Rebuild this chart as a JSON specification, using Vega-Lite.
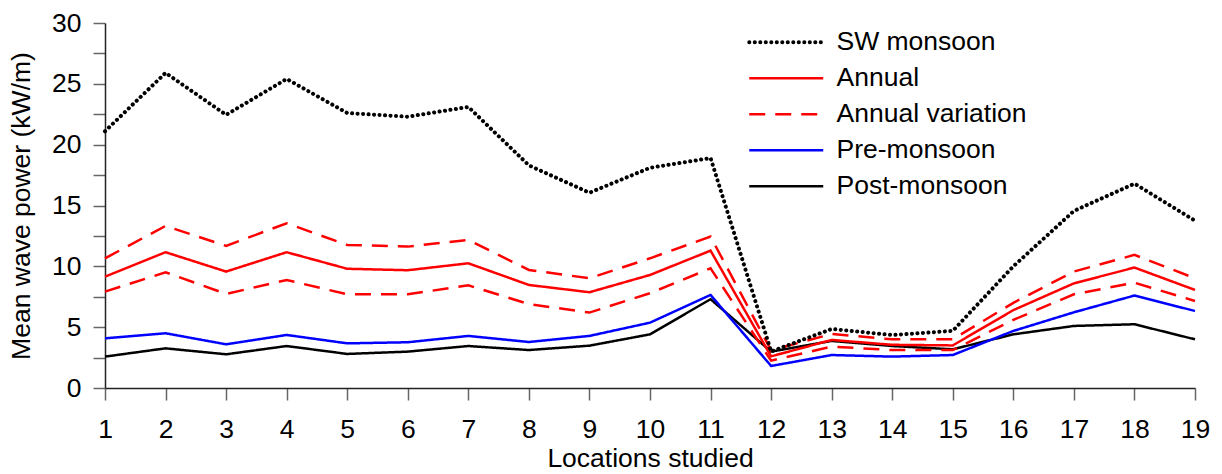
{
  "$schema": "https://vega.github.io/schema/vega-lite/v6.json",
  "autosize": "none",
  "width": 1090,
  "height": 365,
  "padding": {"left": 105, "top": 23, "right": 27, "bottom": 86},
  "background": "white",
  "config": {
    "view": {"stroke": null},
    "font": "Liberation Sans",
    "axis": {
      "labelFont": "Liberation Sans",
      "titleFont": "Liberation Sans",
      "labelFontSize": 26.5,
      "titleFontSize": 26.5,
      "titleFontWeight": "normal",
      "labelColor": "black",
      "titleColor": "black",
      "domainColor": "#222",
      "domainWidth": 1.5,
      "tickColor": "#666",
      "tickWidth": 1.5,
      "tickSize": 12,
      "grid": false
    },
    "legend": {
      "labelFont": "Liberation Sans",
      "labelFontSize": 26.5,
      "labelColor": "black",
      "labelLimit": 0
    }
  },
  "data": {
    "values": [
      {"x":1,"s":"Post-monsoon","p":"a","v":2.58},{"x":2,"s":"Post-monsoon","p":"a","v":3.26},{"x":3,"s":"Post-monsoon","p":"a","v":2.77},{"x":4,"s":"Post-monsoon","p":"a","v":3.45},{"x":5,"s":"Post-monsoon","p":"a","v":2.8},{"x":6,"s":"Post-monsoon","p":"a","v":2.99},{"x":7,"s":"Post-monsoon","p":"a","v":3.45},{"x":8,"s":"Post-monsoon","p":"a","v":3.12},{"x":9,"s":"Post-monsoon","p":"a","v":3.48},{"x":10,"s":"Post-monsoon","p":"a","v":4.41},{"x":11,"s":"Post-monsoon","p":"a","v":7.3},{"x":12,"s":"Post-monsoon","p":"a","v":2.99},{"x":13,"s":"Post-monsoon","p":"a","v":3.87},{"x":14,"s":"Post-monsoon","p":"a","v":3.45},{"x":15,"s":"Post-monsoon","p":"a","v":3.18},{"x":16,"s":"Post-monsoon","p":"a","v":4.41},{"x":17,"s":"Post-monsoon","p":"a","v":5.1},{"x":18,"s":"Post-monsoon","p":"a","v":5.24},{"x":19,"s":"Post-monsoon","p":"a","v":4.0},
      {"x":1,"s":"Pre-monsoon","p":"a","v":4.08},{"x":2,"s":"Pre-monsoon","p":"a","v":4.5},{"x":3,"s":"Pre-monsoon","p":"a","v":3.59},{"x":4,"s":"Pre-monsoon","p":"a","v":4.36},{"x":5,"s":"Pre-monsoon","p":"a","v":3.67},{"x":6,"s":"Pre-monsoon","p":"a","v":3.76},{"x":7,"s":"Pre-monsoon","p":"a","v":4.28},{"x":8,"s":"Pre-monsoon","p":"a","v":3.78},{"x":9,"s":"Pre-monsoon","p":"a","v":4.28},{"x":10,"s":"Pre-monsoon","p":"a","v":5.37},{"x":11,"s":"Pre-monsoon","p":"a","v":7.65},{"x":12,"s":"Pre-monsoon","p":"a","v":1.81},{"x":13,"s":"Pre-monsoon","p":"a","v":2.71},{"x":14,"s":"Pre-monsoon","p":"a","v":2.58},{"x":15,"s":"Pre-monsoon","p":"a","v":2.71},{"x":16,"s":"Pre-monsoon","p":"a","v":4.69},{"x":17,"s":"Pre-monsoon","p":"a","v":6.22},{"x":18,"s":"Pre-monsoon","p":"a","v":7.6},{"x":19,"s":"Pre-monsoon","p":"a","v":6.33},
      {"x":1,"s":"Annual variation","p":"u","v":10.66},{"x":2,"s":"Annual variation","p":"u","v":13.32},{"x":3,"s":"Annual variation","p":"u","v":11.68},{"x":4,"s":"Annual variation","p":"u","v":13.54},{"x":5,"s":"Annual variation","p":"u","v":11.76},{"x":6,"s":"Annual variation","p":"u","v":11.62},{"x":7,"s":"Annual variation","p":"u","v":12.17},{"x":8,"s":"Annual variation","p":"u","v":9.7},{"x":9,"s":"Annual variation","p":"u","v":9.02},{"x":10,"s":"Annual variation","p":"u","v":10.66},{"x":11,"s":"Annual variation","p":"u","v":12.44},{"x":12,"s":"Annual variation","p":"u","v":3.1},{"x":13,"s":"Annual variation","p":"u","v":4.44},{"x":14,"s":"Annual variation","p":"u","v":4.0},{"x":15,"s":"Annual variation","p":"u","v":4.0},{"x":16,"s":"Annual variation","p":"u","v":7.0},{"x":17,"s":"Annual variation","p":"u","v":9.57},{"x":18,"s":"Annual variation","p":"u","v":10.94},{"x":19,"s":"Annual variation","p":"u","v":9.02},
      {"x":1,"s":"Annual variation","p":"l","v":7.92},{"x":2,"s":"Annual variation","p":"l","v":9.51},{"x":3,"s":"Annual variation","p":"l","v":7.73},{"x":4,"s":"Annual variation","p":"l","v":8.88},{"x":5,"s":"Annual variation","p":"l","v":7.7},{"x":6,"s":"Annual variation","p":"l","v":7.7},{"x":7,"s":"Annual variation","p":"l","v":8.44},{"x":8,"s":"Annual variation","p":"l","v":6.9},{"x":9,"s":"Annual variation","p":"l","v":6.2},{"x":10,"s":"Annual variation","p":"l","v":7.79},{"x":11,"s":"Annual variation","p":"l","v":9.84},{"x":12,"s":"Annual variation","p":"l","v":2.25},{"x":13,"s":"Annual variation","p":"l","v":3.4},{"x":14,"s":"Annual variation","p":"l","v":3.12},{"x":15,"s":"Annual variation","p":"l","v":3.12},{"x":16,"s":"Annual variation","p":"l","v":5.6},{"x":17,"s":"Annual variation","p":"l","v":7.7},{"x":18,"s":"Annual variation","p":"l","v":8.66},{"x":19,"s":"Annual variation","p":"l","v":7.15},
      {"x":1,"s":"Annual","p":"a","v":9.15},{"x":2,"s":"Annual","p":"a","v":11.16},{"x":3,"s":"Annual","p":"a","v":9.57},{"x":4,"s":"Annual","p":"a","v":11.16},{"x":5,"s":"Annual","p":"a","v":9.8},{"x":6,"s":"Annual","p":"a","v":9.68},{"x":7,"s":"Annual","p":"a","v":10.25},{"x":8,"s":"Annual","p":"a","v":8.47},{"x":9,"s":"Annual","p":"a","v":7.87},{"x":10,"s":"Annual","p":"a","v":9.29},{"x":11,"s":"Annual","p":"a","v":11.29},{"x":12,"s":"Annual","p":"a","v":2.6},{"x":13,"s":"Annual","p":"a","v":3.95},{"x":14,"s":"Annual","p":"a","v":3.55},{"x":15,"s":"Annual","p":"a","v":3.5},{"x":16,"s":"Annual","p":"a","v":6.4},{"x":17,"s":"Annual","p":"a","v":8.6},{"x":18,"s":"Annual","p":"a","v":9.9},{"x":19,"s":"Annual","p":"a","v":8.06},
      {"x":1,"s":"SW monsoon","p":"a","v":21.1},{"x":2,"s":"SW monsoon","p":"a","v":25.9},{"x":3,"s":"SW monsoon","p":"a","v":22.45},{"x":4,"s":"SW monsoon","p":"a","v":25.4},{"x":5,"s":"SW monsoon","p":"a","v":22.6},{"x":6,"s":"SW monsoon","p":"a","v":22.3},{"x":7,"s":"SW monsoon","p":"a","v":23.1},{"x":8,"s":"SW monsoon","p":"a","v":18.3},{"x":9,"s":"SW monsoon","p":"a","v":16.05},{"x":10,"s":"SW monsoon","p":"a","v":18.1},{"x":11,"s":"SW monsoon","p":"a","v":18.9},{"x":12,"s":"SW monsoon","p":"a","v":3.0},{"x":13,"s":"SW monsoon","p":"a","v":4.85},{"x":14,"s":"SW monsoon","p":"a","v":4.35},{"x":15,"s":"SW monsoon","p":"a","v":4.7},{"x":16,"s":"SW monsoon","p":"a","v":10.0},{"x":17,"s":"SW monsoon","p":"a","v":14.55},{"x":18,"s":"SW monsoon","p":"a","v":16.8},{"x":19,"s":"SW monsoon","p":"a","v":13.75}
    ]
  },
  "encoding": {
    "x": {
      "field": "x", "type": "quantitative",
      "scale": {"domain": [1, 19], "nice": false, "zero": false},
      "axis": {"values": [1,2,3,4,5,6,7,8,9,10,11,12,13,14,15,16,17,18,19], "labelPadding": 16, "title": "Locations studied", "titlePadding": 3, "labelFlush": false, "labelOverlap": false}
    },
    "y": {
      "field": "v", "type": "quantitative",
      "scale": {"domain": [0, 30], "nice": false},
      "axis": {"values": [0,2.5,5,7.5,10,12.5,15,17.5,20,22.5,25,27.5,30], "labelExpr": "datum.value % 5 === 0 ? datum.label : ''", "labelPadding": 12, "title": "Mean wave power (kW/m)", "titlePadding": 16, "labelFlush": false, "labelOverlap": false}
    },
    "color": {
      "field": "s", "type": "nominal",
      "scale": {"domain": ["SW monsoon", "Annual", "Annual variation", "Pre-monsoon", "Post-monsoon"], "range": ["#000000", "#ff0000", "#ff0000", "#0000ff", "#000000"]},
      "legend": {
        "title": null, "orient": "none", "legendX": 631, "legendY": 6, "padding": 0,
        "symbolType": "M0,0H14.8", "symbolSize": 100, "labelOffset": 74, "rowPadding": 9,
        "symbolStrokeWidth": 2.5,
        "encode": {"symbols": {"update": {
          "strokeWidth": {"signal": "datum.value === 'SW monsoon' ? 4 : 2.5"},
          "strokeCap": {"signal": "datum.value === 'SW monsoon' ? 'round' : 'butt'"}
        }}}
      }
    },
    "strokeDash": {
      "field": "s", "type": "nominal",
      "scale": {"domain": ["SW monsoon", "Annual", "Annual variation", "Pre-monsoon", "Post-monsoon"], "range": [[0.1, 5.4], [1, 0], [16, 10], [1, 0], [1, 0]]},
      "legend": {
        "title": null, "orient": "none", "legendX": 631, "legendY": 6, "padding": 0,
        "symbolType": "M0,0H14.8", "symbolSize": 100, "labelOffset": 74, "rowPadding": 9,
        "symbolStrokeWidth": 2.5,
        "encode": {"symbols": {"update": {
          "strokeWidth": {"signal": "datum.value === 'SW monsoon' ? 4 : 2.5"},
          "strokeCap": {"signal": "datum.value === 'SW monsoon' ? 'round' : 'butt'"}
        }}}
      }
    },
    "detail": {"field": "p", "type": "nominal"}
  },
  "layer": [
    {
      "transform": [{"filter": "datum.s !== 'SW monsoon'"}],
      "mark": {"type": "line", "strokeWidth": 2.5, "strokeCap": "butt"}
    },
    {
      "transform": [{"filter": "datum.s === 'SW monsoon'"}],
      "mark": {"type": "line", "strokeWidth": 4, "strokeCap": "round"}
    }
  ]
}
